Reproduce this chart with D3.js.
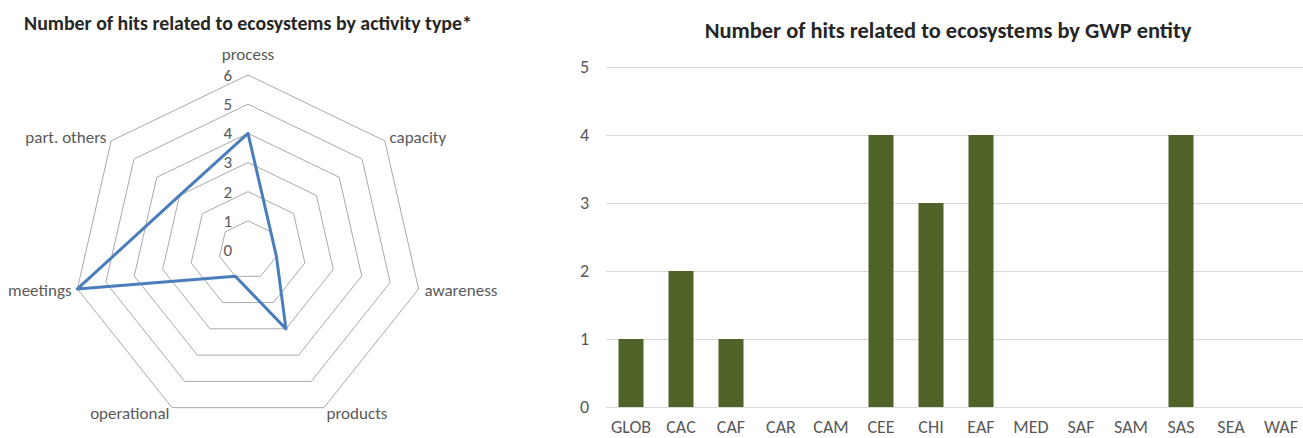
<!DOCTYPE html>
<html>
<head>
<meta charset="utf-8">
<script src="https://cdn.jsdelivr.net/npm/d3@7"></script>
<style>
  body { margin: 0; background: #fff; }
  svg { display: block; font-family: Carlito, Lato, "Open Sans", sans-serif; }
</style>
</head>
<body>
<svg id="chart" width="1303" height="438"></svg>
<script>
// radar: hits by activity type
const activityTypes = ["process", "capacity", "awareness", "products", "operational", "meetings", "part. others"];
const activityHits = [4, 1, 1, 3, 1, 6, 3];
const radarTicks = [0, 1, 2, 3, 4, 5, 6];

// bars: hits by GWP entity
const entities = ["GLOB", "CAC", "CAF", "CAR", "CAM", "CEE", "CHI", "EAF", "MED", "SAF", "SAM", "SAS", "SEA", "WAF"];
const entityHits = [1, 2, 1, 0, 0, 4, 3, 4, 0, 0, 0, 4, 0, 0];
const barTicks = [0, 1, 2, 3, 4, 5];

const svg = d3.select("#chart");
const labelColor = "#595959";

// scale a title's font size so it spans a given width
function fitWidth(text, width) {
  const size = parseFloat(text.attr("font-size"));
  const len = text.node().getComputedTextLength();
  text.attr("font-size", size * width / len);
}

// ---------- radar ----------
const cx = 248, cy = 250;
const r = d3.scaleLinear().domain([0, 6]).range([0, 175]);
const angle = i => i * 2 * Math.PI / activityTypes.length;

const radar = svg.append("g").attr("transform", `translate(${cx},${cy})`);

const ring = d3.lineRadial()
  .angle((d, i) => angle(i))
  .radius(d => r(d))
  .curve(d3.curveLinearClosed);

radar.selectAll(".ring")
  .data(radarTicks.filter(t => t > 0))
  .join("path")
  .attr("class", "ring")
  .attr("d", t => ring(activityTypes.map(() => t)))
  .attr("fill", "none")
  .attr("stroke", "#a9a9a9")
  .attr("stroke-width", 1);

radar.append("path")
  .attr("d", ring(activityHits))
  .attr("fill", "none")
  .attr("stroke", "#4a7ebb")
  .attr("stroke-width", 3)
  .attr("stroke-linejoin", "round");

radar.selectAll(".tick")
  .data(radarTicks)
  .join("text")
  .attr("class", "tick")
  .attr("x", -16)
  .attr("y", d => -r(d))
  .attr("dy", "0.35em")
  .attr("text-anchor", "end")
  .attr("font-size", 17)
  .attr("fill", labelColor)
  .text(d => d);

radar.selectAll(".axis-label")
  .data(activityTypes)
  .join("text")
  .attr("class", "axis-label")
  .each(function (d, i) {
    const a = angle(i);
    const sx = Math.sin(a), sy = -Math.cos(a);
    const lr = r(6) + (Math.abs(sx) < 0.01 ? 21 : 6);
    d3.select(this)
      .attr("x", lr * sx)
      .attr("y", lr * sy)
      .attr("text-anchor", Math.abs(sx) < 0.01 ? "middle" : sx > 0 ? "start" : "end");
  })
  .attr("dy", "0.35em")
  .attr("font-size", 17)
  .attr("fill", labelColor)
  .text(d => d);

const leftTitle = svg.append("text")
  .attr("x", 248)
  .attr("y", 23)
  .attr("dy", "0.35em")
  .attr("text-anchor", "middle")
  .attr("font-size", 17)
  .attr("font-weight", "bold")
  .attr("fill", "#262626")
  .text("Number of hits related to ecosystems by activity type*");
fitWidth(leftTitle, 448);

// ---------- bars ----------
const x = d3.scaleBand()
  .domain(entities)
  .range([606, 1306])
  .paddingInner(0.5)
  .paddingOuter(0.25);

const y = d3.scaleLinear().domain([0, 5]).range([407, 67]);

const bars = svg.append("g");

bars.selectAll(".grid")
  .data(barTicks)
  .join("line")
  .attr("class", "grid")
  .attr("x1", 606)
  .attr("x2", 1306)
  .attr("y1", d => y(d) + 0.5)
  .attr("y2", d => y(d) + 0.5)
  .attr("stroke", "#d9d9d9")
  .attr("stroke-width", 1);

bars.selectAll(".bar")
  .data(entities.map((e, i) => ({ e, v: entityHits[i] })))
  .join("rect")
  .attr("class", "bar")
  .attr("x", d => x(d.e))
  .attr("width", x.bandwidth())
  .attr("y", d => y(d.v))
  .attr("height", d => y(0) - y(d.v))
  .attr("fill", "#4f6228");

bars.selectAll(".ytick")
  .data(barTicks)
  .join("text")
  .attr("class", "ytick")
  .attr("x", 589)
  .attr("y", d => y(d))
  .attr("dy", "0.35em")
  .attr("text-anchor", "end")
  .attr("font-size", 18)
  .attr("fill", labelColor)
  .text(d => d);

bars.selectAll(".xtick")
  .data(entities)
  .join("text")
  .attr("class", "xtick")
  .attr("x", d => x(d) + x.bandwidth() / 2)
  .attr("y", 433)
  .attr("text-anchor", "middle")
  .attr("font-size", 18)
  .attr("fill", labelColor)
  .text(d => d);

const rightTitle = svg.append("text")
  .attr("x", 948)
  .attr("y", 30)
  .attr("dy", "0.35em")
  .attr("text-anchor", "middle")
  .attr("font-size", 19)
  .attr("font-weight", "bold")
  .attr("fill", "#262626")
  .text("Number of hits related to ecosystems by GWP entity");
fitWidth(rightTitle, 487);
</script>
</body>
</html>
